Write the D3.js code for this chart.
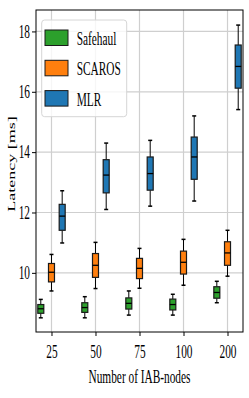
<!DOCTYPE html>
<html>
<head>
<meta charset="utf-8">
<script src="https://cdn.jsdelivr.net/npm/d3@7"></script>
<style>
  html, body { margin: 0; padding: 0; background: #fff; }
  svg { display: block; }
</style>
</head>
<body>
<svg id="chart" width="249" height="398"></svg>
<script>
// Data: [whisker low, q1, median, q3, whisker high] for each node count
const nodeCounts = ["25", "50", "75", "100", "200"];
const seriesNames = ["Safehaul", "SCAROS", "MLR"];
const seriesColors = ["#2ca02c", "#ff7f0e", "#1f77b4"];
const safehaulStats = [
    [8.51, 8.66, 8.81, 8.95, 9.12],
    [8.51, 8.69, 8.85, 9.01, 9.21],
    [8.60, 8.80, 8.99, 9.17, 9.40],
    [8.60, 8.77, 8.95, 9.13, 9.29],
    [9.01, 9.16, 9.35, 9.54, 9.72]
];
const scarosStats = [
    [9.40, 9.70, 10.02, 10.31, 10.61],
    [9.48, 9.85, 10.25, 10.64, 11.01],
    [9.49, 9.81, 10.15, 10.48, 10.81],
    [9.59, 9.96, 10.35, 10.72, 11.11],
    [9.89, 10.25, 10.66, 11.03, 11.41]
];
const mlrStats = [
    [10.99, 11.41, 11.88, 12.27, 12.72],
    [12.10, 12.65, 13.24, 13.75, 14.30],
    [12.21, 12.74, 13.29, 13.84, 14.39],
    [12.38, 13.10, 13.84, 14.50, 15.20],
    [15.41, 16.12, 16.84, 17.55, 18.21]
];
const yTicks = [10, 12, 14, 16, 18];

const allStats = [safehaulStats, scarosStats, mlrStats];

// Layout
const plotLeft = 36, plotRight = 243, plotTop = 10, plotBottom = 332;
const SX = 0.63;           // the text in the figure is squeezed horizontally
const fontFamily = "'Liberation Serif', 'DejaVu Serif', serif";
const fontSize = 18;

const svg = d3.select("#chart");

const x = d3.scalePoint()
    .domain(nodeCounts)
    .range([plotLeft, plotRight])
    .padding(0.352);

const y = d3.scaleLinear()
    .domain([8.04, 18.71])
    .range([plotBottom, plotTop]);

const step = x.step();
const offset = step * 0.243;
const boxW = 6;
const capW = 4;

// Grid
const grid = svg.append("g");
grid.selectAll("line.gy")
    .data(yTicks)
    .join("line")
    .attr("class", "gy")
    .attr("x1", plotLeft).attr("x2", plotRight)
    .attr("y1", d => y(d)).attr("y2", d => y(d))
    .attr("stroke", "#cfcfcf")
    .attr("stroke-width", 1.2);
grid.selectAll("line.gx")
    .data(nodeCounts)
    .join("line")
    .attr("class", "gx")
    .attr("x1", d => x(d)).attr("x2", d => x(d))
    .attr("y1", plotTop).attr("y2", plotBottom)
    .attr("stroke", "#cfcfcf")
    .attr("stroke-width", 1.2);

// Boxes
allStats.forEach((stats, si) => {
    const g = svg.append("g");
    const dx = (si - 1) * offset;
    stats.forEach((s, ci) => {
        const cx = x(nodeCounts[ci]) + dx;
        const [lo, q1, med, q3, hi] = s;
        // whiskers
        g.append("line")
            .attr("x1", cx).attr("x2", cx)
            .attr("y1", y(hi)).attr("y2", y(q3))
            .attr("stroke", "#000").attr("stroke-width", 1);
        g.append("line")
            .attr("x1", cx).attr("x2", cx)
            .attr("y1", y(q1)).attr("y2", y(lo))
            .attr("stroke", "#000").attr("stroke-width", 1);
        // caps
        [lo, hi].forEach(v => {
            g.append("line")
                .attr("x1", cx - capW / 2).attr("x2", cx + capW / 2)
                .attr("y1", y(v)).attr("y2", y(v))
                .attr("stroke", "#000").attr("stroke-width", 1.5);
        });
        // box
        g.append("rect")
            .attr("x", cx - boxW / 2)
            .attr("y", y(q3))
            .attr("width", boxW)
            .attr("height", y(q1) - y(q3))
            .attr("fill", seriesColors[si])
            .attr("stroke", "#1a1a1a")
            .attr("stroke-width", 1.2);
        // median
        g.append("line")
            .attr("x1", cx - boxW / 2).attr("x2", cx + boxW / 2)
            .attr("y1", y(med)).attr("y2", y(med))
            .attr("stroke", "#000").attr("stroke-width", 1.3);
    });
});

// Frame
svg.append("rect")
    .attr("x", plotLeft).attr("y", plotTop)
    .attr("width", plotRight - plotLeft).attr("height", plotBottom - plotTop)
    .attr("fill", "none")
    .attr("stroke", "#000")
    .attr("stroke-width", 1);

// Axes
const yAxis = svg.append("g")
    .attr("transform", `translate(${plotLeft},0)`)
    .call(d3.axisLeft(y).tickValues(yTicks).tickSize(4).tickFormat(d3.format("d")));
const xAxis = svg.append("g")
    .attr("transform", `translate(0,${plotBottom})`)
    .call(d3.axisBottom(x).tickSize(4));

[yAxis, xAxis].forEach(a => {
    a.select(".domain").remove();
    a.selectAll(".tick line").attr("stroke", "#000").attr("stroke-width", 1);
    a.selectAll(".tick text")
        .attr("font-family", fontFamily)
        .attr("font-size", fontSize)
        .attr("fill", "#000");
});
yAxis.selectAll(".tick text")
    .attr("x", -6 / SX)
    .attr("transform", `scale(${SX},1)`);
xAxis.selectAll(".tick text")
    .attr("y", 13)
    .attr("transform", `scale(${SX},1)`);

// Axis titles
svg.append("text")
    .attr("transform", `translate(${(plotLeft + plotRight) / 2},383) scale(${SX},1)`)
    .attr("text-anchor", "middle")
    .attr("font-family", fontFamily)
    .attr("font-size", fontSize)
    .text("Number of IAB-nodes");

svg.append("text")
    .attr("transform", `translate(15,164) scale(${SX},1) rotate(-90)`)
    .attr("text-anchor", "middle")
    .attr("font-family", fontFamily)
    .attr("font-size", fontSize)
    .text("Latency [ms]");

// Legend
const legend = svg.append("g");
legend.append("rect")
    .attr("x", 41.7).attr("y", 20)
    .attr("width", 85).attr("height", 96.7)
    .attr("rx", 3)
    .attr("fill", "#fff").attr("fill-opacity", 0.8)
    .attr("stroke", "#d6d6d6").attr("stroke-width", 1);

const items = legend.selectAll("g.item")
    .data(seriesNames)
    .join("g")
    .attr("class", "item")
    .attr("transform", (d, i) => `translate(45,${30 + i * 30.3})`);
items.append("rect")
    .attr("width", 23).attr("height", 15.5)
    .attr("fill", (d, i) => seriesColors[i])
    .attr("stroke", "#1a1a1a").attr("stroke-width", 1);
items.append("text")
    .attr("transform", `translate(31.7,15) scale(${SX},1)`)
    .attr("font-family", fontFamily)
    .attr("font-size", fontSize)
    .text(d => d);
</script>
</body>
</html>
